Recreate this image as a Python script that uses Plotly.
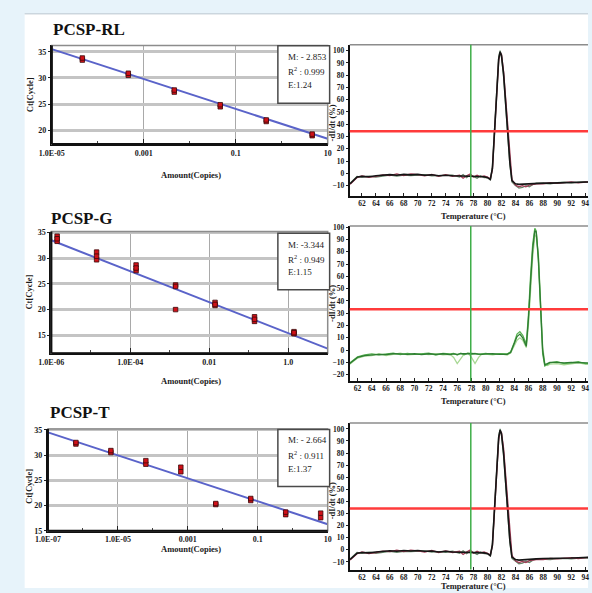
import plotly.graph_objects as go

# ---------------- data: standard curves ----------------
rl_amount = [4.6e-5, 4.6e-4, 4.6e-3, 4.6e-2, 4.6e-1, 4.6]
rl_ct_a = [33.4, 30.5, 27.3, 24.5, 21.7, 19.0]
rl_ct_b = [33.8, 30.9, 27.7, 24.9, 22.0, 19.3]
rl_fit_amount = [1e-5, 10]
rl_fit_ct = [35.5, 18.4]
rl_stats = ["M: - 2.853", "R<sup>2</sup> : 0.999", "E:1.24"]
rl_tickvals = [1e-5, 1e-3, 1e-1, 10]
rl_ticktext = ["1.0E-05", "0.001", "0.1", "10"]

g_amount = [1.4e-6, 1.4e-5, 1.4e-4, 1.4e-3, 1.4e-2, 1.4e-1, 1.4]
g_ct_a = [34.3, 31.2, 28.7, 24.8, 21.4, 18.6, 15.7]
g_ct_b = [33.3, 29.7, 27.6, 20.0, 20.8, 17.7, 15.3]
g_ct_c = [33.8, 30.4, 28.1, 24.5, 21.0, 18.1, 15.5]
g_fit_amount = [1e-6, 10]
g_fit_ct = [33.5, 12.4]
g_stats = ["M: -3.344", "R<sup>2</sup> : 0.949", "E:1.15"]
g_tickvals = [1e-6, 1e-4, 1e-2, 1]
g_ticktext = ["1.0E-06", "1.0E-04", "0.01", "1.0"]

t_amount = [6.3e-7, 6.3e-6, 6.3e-5, 6.3e-4, 6.3e-3, 6.3e-2, 6.3e-1, 6.3]
t_ct_a = [32.2, 30.5, 28.2, 26.7, 20.2, 21.0, 18.2, 17.6]
t_ct_b = [32.5, 30.9, 28.9, 27.6, 20.4, 21.4, 18.7, 18.5]
t_fit_amount = [1e-7, 10]
t_fit_ct = [34.5, 16.3]
t_stats = ["M: - 2.664", "R<sup>2</sup> : 0.911", "E:1.37"]
t_tickvals = [1e-7, 1e-5, 1e-3, 1e-1, 10]
t_ticktext = ["1.0E-07", "1.0E-05", "0.001", "0.1", "10"]

titles = ["PCSP-RL", "PCSP-G", "PCSP-T"]

# ---------------- data: melt curves ----------------
melt_temp_a = [60.3, 60.8, 61.3, 62, 63, 64, 65, 66, 67, 68, 69, 70, 71, 72, 73, 74, 75,
               76, 76.5, 77, 77.5, 78, 78.5, 79, 79.5, 80, 80.4, 80.7, 81.0, 81.3, 81.6,
               81.8, 82.0, 82.3, 82.6, 82.9, 83.2, 83.5, 84, 84.5, 85, 85.5, 86, 86.5, 87,
               88, 89, 90, 91, 92, 93, 94, 94.5]
rl_melt_black = [-8.5, -6, -3, -2.5, -2.8, -2, -1.8, -1, -1.5, -0.8, -1.2, -0.8, -1.5, -1.2, -2, -1.5, -2,
                 -2.2, -2, -2.3, -2.5, -2.2, -2.5, -2.3, -2.8, -3.5, -5, 4, 36, 70, 93,
                 99, 96, 81, 57, 33, 9, -6, -8.5, -9, -8.8, -8.5, -8.8, -8.5, -8.2,
                 -8, -8, -7.8, -7.5, -7.5, -7.2, -7, -7]
rl_melt_red = [-9, -6.5, -3.5, -2, -3.2, -2.5, -1.2, -1.8, -0.5, -1.8, -0.5, -1, -2, -0.8, -2.5, -1, -2.5,
               -1.5, -4, -2, -0.5, -3, -1.5, -2.8, -2, -3, -4.5, 3, 34, 68, 92,
               98, 97, 83, 59, 35, 11, -5, -9.5, -11, -10, -11, -9.5, -9, -8.5,
               -8.5, -7.5, -8.2, -7.8, -7, -7.8, -7.2, -6.8]
rl_melt_green = [-8, -5.5, -2.5, -3, -2.2, -3, -2.2, -1.5, -2.2, -1.5, -1.8, -1.2, -1, -2, -1.8, -2.2, -1.5,
                 -3, -1, -3.5, -1.2, -2.5, -4, -2, -3.5, -3.2, -5.5, 5, 38, 72, 95,
                 100, 95, 79, 55, 31, 7, -7, -10, -12, -11.5, -10, -11, -9, -8,
                 -8.2, -8.5, -7.5, -7.2, -7.8, -7, -6.8, -7.2]

t_melt_black = [-8, -5.5, -2.8, -2.2, -2.5, -1.8, -1.5, -0.8, -1.2, -0.5, -1, -0.5, -1.2, -1, -1.8, -1.2, -1.8,
                -2, -1.8, -2, -2.2, -2, -2.2, -2, -2.5, -3.2, -4.8, 4, 35, 69, 93,
                99, 96, 80, 56, 32, 8, -6, -8, -8.5, -8.2, -8, -8.2, -7.8, -7.5,
                -7.2, -7.2, -7, -6.8, -6.8, -6.5, -6.2, -6.2]
t_melt_red = [-8.5, -6, -3.2, -1.8, -3, -2.2, -1, -1.5, -0.2, -1.5, -0.2, -0.8, -1.8, -0.5, -2.2, -0.8, -2.2,
              -1.2, -3.8, -1.8, -0.2, -2.8, -1.2, -2.5, -1.8, -2.8, -4.2, 3, 33, 67, 91,
              98, 97, 84, 60, 36, 12, -4.5, -9, -10.5, -9.5, -10.5, -9, -8.5, -8,
              -8, -7, -7.5, -7.2, -6.5, -7.2, -6.8, -6.2]
t_melt_green = [-7.5, -5, -2.2, -2.8, -2, -2.8, -2, -1.2, -2, -1.2, -1.5, -1, -0.8, -1.8, -1.5, -2, -1.2,
                -2.8, -0.8, -3.2, -1, -2.2, -3.8, -1.8, -3.2, -3, -5.2, 5, 37, 71, 94,
                100, 95, 78, 54, 30, 6, -7, -9.5, -11.5, -11, -9.5, -10.5, -8.5, -7.5,
                -7.8, -8, -7.2, -7, -7.5, -6.8, -6.5, -6.8]

melt_temp_g = [60.9, 61.5, 62, 63, 64, 65, 66, 67, 68, 69, 70, 71, 72, 73, 74, 75, 75.5, 76, 76.5,
               77, 77.5, 78, 78.5, 79, 79.5, 80, 81, 82, 83, 83.5, 84, 84.4, 84.8, 85.2, 85.7,
               86.0, 86.3, 86.6, 86.9, 87.1, 87.4, 87.7, 88.0, 88.3, 88.7, 89, 90, 91, 92, 93,
               94, 94.4]
g_melt_dark = [-11, -8, -6, -4.5, -4, -3.5, -3.8, -3, -3.2, -3.5, -3, -3.8, -3, -3.5, -3, -3.8, -3.2, -3.5, -3,
               -3.2, -3, -2.8, -3.2, -3, -3.5, -3.2, -3, -3.5, -3.5, -2, 5, 11, 13, 10, 3,
               25, 55, 82, 97, 96, 75, 35, 0, -12, -11, -10, -10, -10.5, -10, -10,
               -10.5, -10.5]
g_melt_mid = [-10.5, -7.5, -5.5, -4, -3.2, -4, -3, -2.5, -3.8, -2.8, -3.5, -3, -2.5, -4, -2.8, -3.2, -2.8, -4, -2.5,
              -3.8, -2.5, -3.2, -2.8, -3.5, -3, -2.8, -3.5, -3, -3.2, -1.5, 6, 13, 15, 12, 5,
              28, 60, 86, 99, 97, 72, 30, -3, -13, -11.5, -10.5, -9.5, -11, -10.5, -9.5,
              -11, -11]
g_melt_light = [-11.5, -8.5, -6.5, -5, -4.5, -3, -4.5, -3.5, -2.5, -4, -3.5, -3.2, -3.8, -3, -4, -3.5, -6, -11, -7,
                -3, -2.5, -6, -11, -6, -3, -3.5, -4, -3, -4, -2.5, 3, 8, 10, 8, 2,
                20, 48, 76, 92, 94, 78, 40, 3, -11, -12.5, -11.5, -11, -12, -11, -10.5,
                -11.5, -11.5]

threshold_levels = [34.3, 33.2, 34.2]
marker_temps = [77.6, 77.9, 77.6]
melt_xticks = list(range(62, 95, 2))

# ---------------- helpers ----------------
W, H = 592, 593
def fx(px): return px / W
def fy(py): return 1 - py / H

SERIF = "Liberation Serif"
tick_font = dict(family=SERIF, size=8, color="#1a1a1a", weight="bold")
rtick_font = dict(family=SERIF, size=7.5, color="#1a1a1a", weight="bold")

fig = go.Figure()

left_geo = [  # x0, x1, ytop, ybottom in pixels
    (40, 324, 43, 143),
    (39.5, 324, 231.7, 355),
    (36, 324, 431.7, 535),
]
right_geo = [
    (346.7, 592, 42.3, 195.7),
    (346.7, 592, 226, 383.3),
    (346.7, 592, 425.7, 574.3),
]
left_yr = [[17.4, 36.2], [11.5, 35.2], [15, 35.2]]
left_xr = [[-5, 1], [-6, 1], [-7, 1]]
left_yticks = [[20, 25, 30, 35], [15, 20, 25, 30, 35], [15, 20, 25, 30, 35]]
right_xr = [[60.25, 94.4], [60.9, 94.37], [60.25, 94.4]]
right_yr = [[-18.5, 104.8], [-25.3, 101], [-16.3, 104.9]]
right_yticks = [list(range(-10, 101, 10)), list(range(-20, 101, 10)), list(range(-10, 101, 10))]

std_sets = [
    (rl_amount, [rl_ct_a, rl_ct_b], rl_fit_amount, rl_fit_ct, rl_stats, rl_tickvals, rl_ticktext),
    (g_amount, [g_ct_a, g_ct_b, g_ct_c], g_fit_amount, g_fit_ct, g_stats, g_tickvals, g_ticktext),
    (t_amount, [t_ct_a, t_ct_b], t_fit_amount, t_fit_ct, t_stats, t_tickvals, t_ticktext),
]
melt_sets = [
    (melt_temp_a, [(rl_melt_green, "#66866a"), (rl_melt_red, "#a33a55"), (rl_melt_black, "#151515")]),
    (melt_temp_g, [(g_melt_light, "#a8d894"), (g_melt_mid, "#55b04f"), (g_melt_dark, "#2e7d32")]),
    (melt_temp_a, [(t_melt_green, "#66866a"), (t_melt_red, "#a33a55"), (t_melt_black, "#151515")]),
]

layout = dict(
    width=W, height=H, autosize=False,
    margin=dict(l=0, r=0, t=0, b=0),
    paper_bgcolor="#e7f3fa", plot_bgcolor="white",
    showlegend=False,
)
shapes = [
    dict(type="rect", xref="paper", yref="paper", x0=fx(12), x1=1, y0=0, y1=fy(11),
         fillcolor="white", line=dict(width=0), layer="below"),
    dict(type="line", xref="paper", yref="paper", x0=fx(12), x1=1, y0=fy(11), y1=fy(11),
         line=dict(color="#b9c6cf", width=1)),
]
annotations = []

title_pos = [(39, 27), (37, 218), (36, 415)]
ytitle_y = [93, 293, 490]
xtitle_y = [174, 383, 553]
box_geo = [(272.7, 43.3, 101.7, [55, 69, 83]),
           (272.7, 233.3, 290.7, [245, 259, 273]),
           (272.7, 432.3, 490, [443, 458, 472.5])]

for i in range(3):
    n = i + 1
    xa = "x" if n == 1 else f"x{n}"
    ya = "y" if n == 1 else f"y{n}"
    xk = "xaxis" if n == 1 else f"xaxis{n}"
    yk = "yaxis" if n == 1 else f"yaxis{n}"
    x0, x1, yt, yb = left_geo[i]
    amount, reps, fa, fc, stats, tv, tt = std_sets[i]
    decades = [10 ** k for k in range(left_xr[i][0], left_xr[i][1] + 1)]
    layout[xk] = dict(domain=[fx(x0), fx(x1)], anchor=ya, type="log", range=left_xr[i],
                      tickvals=tv, ticktext=tt, tickfont=tick_font, ticks="inside", ticklen=5,
                      tickcolor="#222", showgrid=True, gridcolor="#a9a9a9", gridwidth=1.2,
                      showline=True, linecolor="#111", linewidth=2, zeroline=False,
                      minor=dict(tickvals=decades, ticks="inside", ticklen=3, tickcolor="#444",
                                 showgrid=False))
    layout[yk] = dict(domain=[fy(yb), fy(yt)], anchor=xa, range=left_yr[i],
                      tickvals=left_yticks[i], tickfont=tick_font, ticks="outside", ticklen=2,
                      tickcolor="#222", showgrid=True, gridcolor="#c4c4c4", gridwidth=2.5,
                      showline=True, linecolor="#111", linewidth=2, zeroline=False)
    # fit line
    fig.add_trace(go.Scatter(x=fa, y=fc, mode="lines", line=dict(color="#5a63c9", width=2),
                             xaxis=xa, yaxis=ya, hoverinfo="skip"))
    for rep in reps:
        fig.add_trace(go.Scatter(x=amount, y=rep, mode="markers",
                                 marker=dict(symbol="square", size=4.5, color="#d01018",
                                             line=dict(color="#3a0a0a", width=0.8)),
                                 xaxis=xa, yaxis=ya))
    # gray frame
    shapes.append(dict(type="rect", xref=f"{xa} domain", yref=f"{ya} domain", x0=0, x1=1, y0=0, y1=1,
                       line=dict(color="#8c8c8c", width=1.5)))
    shapes.append(dict(type="line", xref=f"{xa} domain", yref=f"{ya} domain", x0=0, x1=0, y0=0, y1=1,
                       line=dict(color="#111", width=2)))
    shapes.append(dict(type="line", xref=f"{xa} domain", yref=f"{ya} domain", x0=0, x1=1, y0=0, y1=0,
                       line=dict(color="#111", width=2)))
    # stats box
    bx, bt, bb, lines_y = box_geo[i]
    shapes.append(dict(type="rect", xref="paper", yref="paper", x0=fx(bx), x1=fx(326),
                       y0=fy(bb), y1=fy(bt), fillcolor="white",
                       line=dict(color="#4a4a4a", width=1.5), layer="above"))
    for s, ly in zip(stats, lines_y):
        annotations.append(dict(text=s, xref="paper", yref="paper", x=fx(bx + 8), y=fy(ly),
                                xanchor="left", yanchor="middle", showarrow=False,
                                font=dict(family=SERIF, size=9, color="#1a1a1a")))
    # titles
    tx, ty = title_pos[i]
    annotations.append(dict(text=f"<b>{titles[i]}</b>", xref="paper", yref="paper",
                            x=fx(tx), y=fy(ty), xanchor="left", yanchor="middle", showarrow=False,
                            font=dict(family=SERIF, size=17, color="#111")))
    annotations.append(dict(text="<b>Ct[Cycle]</b>", xref="paper", yref="paper", x=fx(17),
                            y=fy(ytitle_y[i]), textangle=-90, showarrow=False,
                            xanchor="center", yanchor="middle",
                            font=dict(family=SERIF, size=8.5, color="#1a1a1a")))
    annotations.append(dict(text="<b>Amount(Copies)</b>", xref="paper", yref="paper", x=fx(183),
                            y=fy(xtitle_y[i]), showarrow=False, xanchor="center", yanchor="middle",
                            font=dict(family=SERIF, size=8.5, color="#1a1a1a")))

rytitle_y = [122, 305, 505]
rxtitle_y = [216, 403.5, 591]
for i in range(3):
    n = i + 4
    xa, ya = f"x{n}", f"y{n}"
    xk, yk = f"xaxis{n}", f"yaxis{n}"
    x0, x1, yt, yb = right_geo[i]
    layout[xk] = dict(domain=[fx(x0), fx(x1)], anchor=ya, range=right_xr[i], tickvals=melt_xticks,
                      tickfont=rtick_font, ticks="inside", ticklen=3, tickcolor="#222",
                      ticklabelstandoff=-1,
                      showgrid=False, showline=True, linecolor="#111", linewidth=2, zeroline=False)
    layout[yk] = dict(domain=[fy(yb), fy(yt)], anchor=xa, range=right_yr[i], tickvals=right_yticks[i],
                      tickfont=rtick_font, ticks="outside", ticklen=2, tickcolor="#222",
                      showgrid=False, showline=True, linecolor="#111", linewidth=2, zeroline=False)
    temps, curves = melt_sets[i]
    for vals, col in curves:
        fig.add_trace(go.Scatter(x=temps, y=vals, mode="lines",
                                 line=dict(color=col, width=1.6 if col == "#151515" else 1.3),
                                 xaxis=xa, yaxis=ya, hoverinfo="skip"))
    shapes.append(dict(type="line", xref=f"{xa} domain", yref=f"{ya} domain", x0=0, x1=1, y0=1, y1=1,
                       line=dict(color="#8c8c8c", width=1.5)))
    shapes.append(dict(type="line", xref=f"{xa} domain", yref=ya, x0=0, x1=1,
                       y0=threshold_levels[i], y1=threshold_levels[i],
                       line=dict(color="#ff3b3b", width=2.5)))
    shapes.append(dict(type="line", xref=xa, yref=f"{ya} domain", x0=marker_temps[i], x1=marker_temps[i],
                       y0=0, y1=1, line=dict(color="#3fae49", width=1.5)))
    annotations.append(dict(text="<b>-dI/dt (%)</b>", xref="paper", yref="paper", x=fx(328.5),
                            y=fy(rytitle_y[i]), textangle=-90, showarrow=False,
                            xanchor="center", yanchor="middle",
                            font=dict(family=SERIF, size=8.5, color="#1a1a1a")))
    annotations.append(dict(text="<b>Temperature (°C)</b>", xref="paper", yref="paper", x=fx(474),
                            y=fy(rxtitle_y[i]), showarrow=False, xanchor="center", yanchor="middle",
                            font=dict(family=SERIF, size=8.5, color="#1a1a1a")))

layout["shapes"] = shapes
layout["annotations"] = annotations
fig.update_layout(**layout)
fig.write_html("out.html")
